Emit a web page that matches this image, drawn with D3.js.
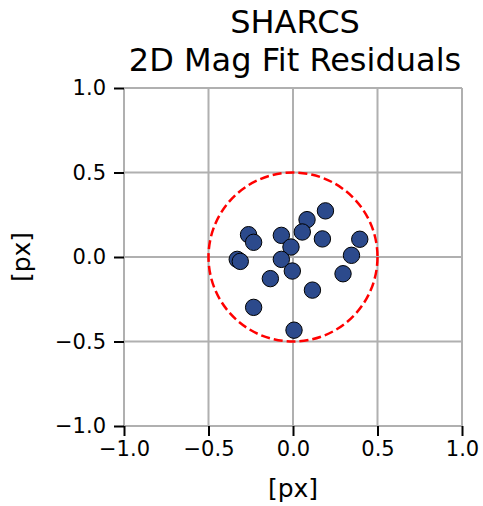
<!DOCTYPE html>
<html>
<head>
<meta charset="utf-8">
<script src="https://cdn.jsdelivr.net/npm/d3@7"></script>
<style>
  body { margin: 0; background: #fff; }
  text { font-family: "DejaVu Sans", sans-serif; fill: #000; }
</style>
</head>
<body>
<div id="viz"></div>
<script>
// residuals in px
var dx = [0.192, 0.083, 0.055, -0.069, -0.263, -0.233, 0.174, 0.395, -0.012, 0.346,
          -0.330, -0.312, -0.069, -0.004, -0.134, 0.296, 0.115, -0.233, 0.006];
var dy = [0.273, 0.221, 0.148, 0.128, 0.132, 0.087, 0.107, 0.105, 0.059, 0.010,
          -0.014, -0.026, -0.014, -0.083, -0.128, -0.099, -0.196, -0.298, -0.433];
var ticks = [-1.0, -0.5, 0.0, 0.5, 1.0];
var titleLines = ["SHARCS", "2D Mag Fit Residuals"];
var circleRadius = 0.5;

var width = 483,
    height = 506;

var svg = d3.select("#viz").append("svg")
    .attr("width", width)
    .attr("height", height);

var x = d3.scaleLinear().domain([-1, 1]).range([124, 462]);
var y = d3.scaleLinear().domain([-1, 1]).range([426, 88]);

var fmt = function(d) { return d3.format(".1f")(d).replace("-", "\u2212"); };

// grid
svg.append("g").selectAll("line.gx")
    .data(ticks)
  .enter().append("line")
    .attr("x1", function(d) { return x(d); })
    .attr("x2", function(d) { return x(d); })
    .attr("y1", y(-1)).attr("y2", y(1))
    .attr("stroke", "#b0b0b0").attr("stroke-width", 2);

svg.append("g").selectAll("line.gy")
    .data(ticks)
  .enter().append("line")
    .attr("y1", function(d) { return y(d); })
    .attr("y2", function(d) { return y(d); })
    .attr("x1", x(-1)).attr("x2", x(1))
    .attr("stroke", "#b0b0b0").attr("stroke-width", 2);

// axes
var xAxis = svg.append("g")
    .attr("transform", "translate(0," + y(-1) + ")")
    .call(d3.axisBottom(x).tickValues(ticks).tickFormat(fmt).tickSize(10).tickPadding(5));
var yAxis = svg.append("g")
    .attr("transform", "translate(" + x(-1) + ",0)")
    .call(d3.axisLeft(y).tickValues(ticks).tickFormat(fmt).tickSize(10).tickPadding(8));

[xAxis, yAxis].forEach(function(a) {
  a.select(".domain").remove();
  a.selectAll(".tick line").attr("stroke", "#000").attr("stroke-width", 2);
  a.selectAll(".tick text")
      .style("font-family", "DejaVu Sans")
      .style("font-size", "21px")
      .attr("fill", "#000");
});

// reference circle
svg.append("circle")
    .attr("cx", x(0))
    .attr("cy", y(0))
    .attr("r", x(circleRadius) - x(0))
    .attr("fill", "none")
    .attr("stroke", "#ff0000")
    .attr("stroke-width", 2.5)
    .attr("stroke-dasharray", "9,4");

// points
svg.append("g").selectAll("circle")
    .data(d3.range(dx.length))
  .enter().append("circle")
    .attr("cx", function(i) { return x(dx[i]); })
    .attr("cy", function(i) { return y(dy[i]); })
    .attr("r", 8.2)
    .attr("fill", "#2c4a8c")
    .attr("stroke", "#000")
    .attr("stroke-width", 1);

// title (one text, two lines)
svg.append("text")
    .attr("text-anchor", "middle")
    .style("font-size", "32px")
  .selectAll("tspan")
    .data(titleLines)
  .enter().append("tspan")
    .attr("x", 295)
    .attr("y", function(d, i) { return 33 + i * 37.5; })
    .text(function(d) { return d; });

// axis labels
svg.append("text")
    .attr("x", x(0)).attr("y", 497)
    .attr("text-anchor", "middle")
    .style("font-size", "25px")
    .text("[px]");
svg.append("text")
    .attr("transform", "translate(30," + y(0) + ") rotate(-90)")
    .attr("text-anchor", "middle")
    .style("font-size", "25px")
    .text("[px]");
</script>
</body>
</html>
